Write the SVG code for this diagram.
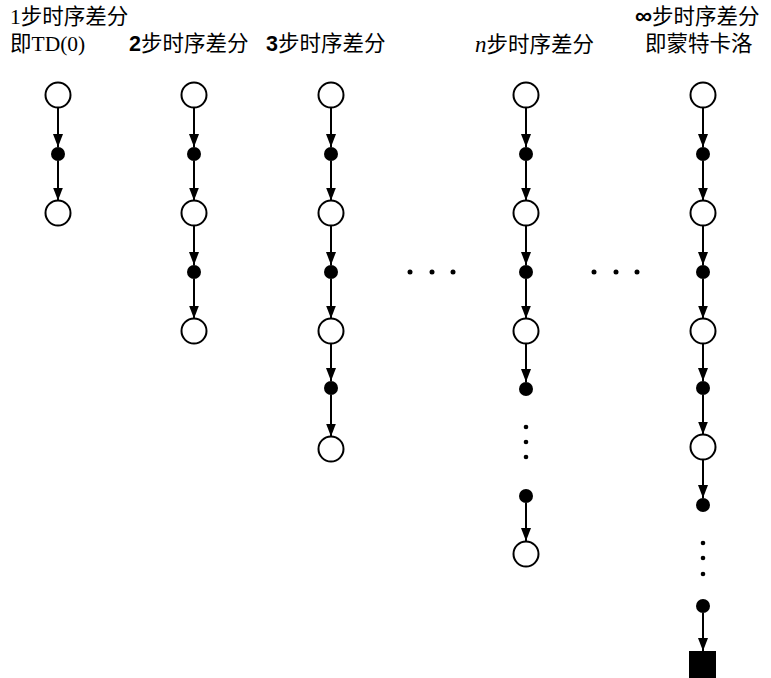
<svg xmlns="http://www.w3.org/2000/svg" width="771" height="678" viewBox="0 0 771 678">
<style>
.lbl{font-size:21.5px;fill:#000;font-family:"Liberation Sans","Noto Sans CJK SC",sans-serif}
.ser{font-family:"Liberation Serif","Noto Sans CJK SC",serif}
.st{fill:#fff;stroke:#000;stroke-width:2}
.ch{fill:#000}
.vd{fill:#000}
.edge{stroke:#000;stroke-width:2;fill:none;marker-end:url(#ah)}
</style>
<defs>
<marker id="ah" markerUnits="userSpaceOnUse" markerWidth="13" markerHeight="10" refX="13" refY="5" orient="auto">
<path d="M0,0 L13,5 L0,10 z" fill="#000"/>
</marker>
</defs>
<rect width="771" height="678" fill="#fff"/>
<g id="labels">
<text class="lbl ser" x="10" y="24">1步时序差分</text>
<text class="lbl ser" x="10" y="51">即TD(0)</text>
<text class="lbl" x="129" y="51"><tspan font-weight="bold">2</tspan>步时序差分</text>
<text class="lbl" x="266" y="51"><tspan font-weight="bold">3</tspan>步时序差分</text>
<text class="lbl" x="475" y="52"><tspan class="ser" font-style="italic" font-size="23">n</tspan>步时序差分</text>
<text class="lbl" x="635" y="24"><tspan font-weight="bold" font-size="24">∞</tspan>步时序差分</text>
<text class="lbl" x="645" y="51">即蒙特卡洛</text>
</g>
<g id="connectors">
<line class="edge" x1="58" y1="107.5" x2="58" y2="147"/>
<line class="edge" x1="58" y1="161" x2="58" y2="200.5"/>
<line class="edge" x1="194" y1="107.5" x2="194" y2="147"/>
<line class="edge" x1="194" y1="161" x2="194" y2="200.5"/>
<line class="edge" x1="194" y1="225.5" x2="194" y2="265"/>
<line class="edge" x1="194" y1="279" x2="194" y2="318.5"/>
<line class="edge" x1="331" y1="107.5" x2="331" y2="147"/>
<line class="edge" x1="331" y1="161" x2="331" y2="200.5"/>
<line class="edge" x1="331" y1="225.5" x2="331" y2="265"/>
<line class="edge" x1="331" y1="279" x2="331" y2="318.5"/>
<line class="edge" x1="331" y1="343.5" x2="331" y2="381"/>
<line class="edge" x1="331" y1="395" x2="331" y2="436.5"/>
<line class="edge" x1="526" y1="107.5" x2="526" y2="147"/>
<line class="edge" x1="526" y1="161" x2="526" y2="200.5"/>
<line class="edge" x1="526" y1="225.5" x2="526" y2="265"/>
<line class="edge" x1="526" y1="279" x2="526" y2="318.5"/>
<line class="edge" x1="526" y1="343.5" x2="526" y2="382"/>
<line class="edge" x1="526" y1="503" x2="526" y2="541"/>
<line class="edge" x1="703" y1="107.5" x2="703" y2="147"/>
<line class="edge" x1="703" y1="161" x2="703" y2="200.5"/>
<line class="edge" x1="703" y1="225.5" x2="703" y2="265"/>
<line class="edge" x1="703" y1="279" x2="703" y2="318.5"/>
<line class="edge" x1="703" y1="343.5" x2="703" y2="381"/>
<line class="edge" x1="703" y1="395" x2="703" y2="434.5"/>
<line class="edge" x1="703" y1="459.5" x2="703" y2="498"/>
<line class="edge" x1="703" y1="613" x2="703" y2="651"/>
</g>
<g id="c1s0"><circle class="st" cx="58" cy="95" r="12.5"/></g>
<g id="c1a0"><circle class="ch" cx="58" cy="154" r="7"/></g>
<g id="c1s1"><circle class="st" cx="58" cy="213" r="12.5"/></g>
<g id="c2s0"><circle class="st" cx="194" cy="95" r="12.5"/></g>
<g id="c2a0"><circle class="ch" cx="194" cy="154" r="7"/></g>
<g id="c2s1"><circle class="st" cx="194" cy="213" r="12.5"/></g>
<g id="c2a1"><circle class="ch" cx="194" cy="272" r="7"/></g>
<g id="c2s2"><circle class="st" cx="194" cy="331" r="12.5"/></g>
<g id="c3s0"><circle class="st" cx="331" cy="95" r="12.5"/></g>
<g id="c3a0"><circle class="ch" cx="331" cy="154" r="7"/></g>
<g id="c3s1"><circle class="st" cx="331" cy="213" r="12.5"/></g>
<g id="c3a1"><circle class="ch" cx="331" cy="272" r="7"/></g>
<g id="c3s2"><circle class="st" cx="331" cy="331" r="12.5"/></g>
<g id="c3a2"><circle class="ch" cx="331" cy="388" r="7"/></g>
<g id="c3s3"><circle class="st" cx="331" cy="449" r="12.5"/></g>
<g id="c4s0"><circle class="st" cx="526" cy="95" r="12.5"/></g>
<g id="c4a0"><circle class="ch" cx="526" cy="154" r="7"/></g>
<g id="c4s1"><circle class="st" cx="526" cy="213" r="12.5"/></g>
<g id="c4a1"><circle class="ch" cx="526" cy="272" r="7"/></g>
<g id="c4s2"><circle class="st" cx="526" cy="331" r="12.5"/></g>
<g id="c4a2"><circle class="ch" cx="526" cy="389" r="7"/></g>
<g id="c4dots"><circle class="vd" cx="526" cy="427" r="2.3"/><circle class="vd" cx="526" cy="442" r="2.3"/><circle class="vd" cx="526" cy="457" r="2.3"/></g>
<g id="c4a3"><circle class="ch" cx="526" cy="496" r="7"/></g>
<g id="c4s3"><circle class="st" cx="526" cy="554" r="12.5"/></g>
<g id="c5s0"><circle class="st" cx="703" cy="95" r="12.5"/></g>
<g id="c5a0"><circle class="ch" cx="703" cy="154" r="7"/></g>
<g id="c5s1"><circle class="st" cx="703" cy="213" r="12.5"/></g>
<g id="c5a1"><circle class="ch" cx="703" cy="272" r="7"/></g>
<g id="c5s2"><circle class="st" cx="703" cy="331" r="12.5"/></g>
<g id="c5a2"><circle class="ch" cx="703" cy="388" r="7"/></g>
<g id="c5s3"><circle class="st" cx="703" cy="447" r="12.5"/></g>
<g id="c5a3"><circle class="ch" cx="703" cy="505" r="7"/></g>
<g id="c5dots"><circle class="vd" cx="703" cy="543" r="2.3"/><circle class="vd" cx="703" cy="558" r="2.3"/><circle class="vd" cx="703" cy="574" r="2.3"/></g>
<g id="c5a4"><circle class="ch" cx="703" cy="606" r="7"/></g>
<g id="c5term"><rect x="689" y="651" width="27" height="27" fill="#000"/></g>
<g id="hdots1"><circle class="vd" cx="410" cy="272" r="2.5"/><circle class="vd" cx="432" cy="272" r="2.5"/><circle class="vd" cx="453" cy="272" r="2.5"/></g>
<g id="hdots2"><circle class="vd" cx="594" cy="272" r="2.5"/><circle class="vd" cx="616" cy="272" r="2.5"/><circle class="vd" cx="637" cy="272" r="2.5"/></g>
</svg>
